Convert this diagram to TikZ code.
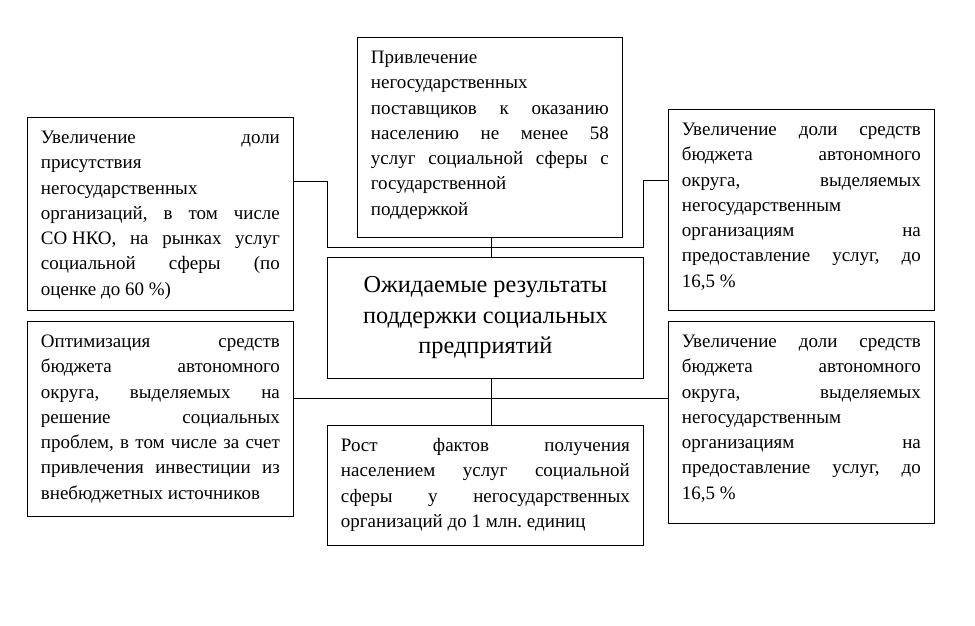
\documentclass[tikz,border=0pt]{standalone}
\usepackage{fontspec}
\setmainfont{Liberation Serif}
\frenchspacing
\newcommand{\bodyfont}{\fontsize{19pt}{25.3pt}\selectfont\frenchspacing\hyphenpenalty=10000 \exhyphenpenalty=10000 \tolerance=10000 \hbadness=10000 \emergencystretch=0pt }
\newcommand{\bt}[3]{\parbox[c][#2][t]{#1}{\bodyfont\rule{0pt}{26pt}#3}}
\tikzset{
  box/.style={draw, line width=0.8pt, inner xsep=13.5pt, inner ysep=0pt, anchor=north west},
  cbox/.style={draw, line width=0.8pt, inner sep=0pt, anchor=north west, align=center,
    font=\fontsize{24.3pt}{30.5pt}\selectfont},
  link/.style={draw, line width=0.9pt},
}
\begin{document}
\begin{tikzpicture}[x=1pt,y=-1pt]
\useasboundingbox (0,0) rectangle (975,625);

\node[box] (tl) at (27,117) {\bt{239pt}{193pt}{Увеличение доли\linebreak присутствия\linebreak негосударственных\linebreak организаций, в том числе\linebreak \mbox{СО НКО}, на рынках услуг\linebreak социальной сферы (по\linebreak оценке до 60~\%)}};

\node[box] (t) at (357,37) {\bt{238pt}{200pt}{Привлечение\linebreak негосударственных\linebreak поставщиков к оказанию\linebreak населению не менее 58\linebreak услуг социальной сферы с\linebreak государственной\linebreak поддержкой}};

\node[box] (tr) at (668,109) {\bt{239pt}{201pt}{Увеличение доли средств\linebreak бюджета автономного\linebreak округа, выделяемых\linebreak негосударственным\linebreak организациям на\linebreak предоставление услуг, до\linebreak 16,5~\%}};

\node[box] (bl) at (27,321) {\bt{239pt}{195pt}{Оптимизация средств\linebreak бюджета автономного\linebreak округа, выделяемых на\linebreak решение социальных\linebreak проблем, в том числе за счет\linebreak привлечения инвестиции из\linebreak внебюджетных источников}};

\node[box] (br) at (668,321) {\bt{239pt}{202pt}{Увеличение доли средств\linebreak бюджета автономного\linebreak округа, выделяемых\linebreak негосударственным\linebreak организациям на\linebreak предоставление услуг, до\linebreak 16,5~\%}};

\node[cbox, minimum width=316pt, minimum height=121pt] (c) at (327,257) {Ожидаемые результаты\\поддержки социальных\\предприятий};

\node[box] (b) at (327,425) {\bt{289pt}{120pt}{Рост фактов получения\linebreak населением услуг социальной\linebreak сферы у негосударственных\linebreak организаций до 1 млн. единиц}};

\coordinate (ja) at (327,181);
\coordinate (jb) at (643,180);
\coordinate (jc) at (327,247);
\coordinate (jd) at (643,247);
\coordinate (je) at (491,398);

\draw[link] (tl.east |- ja) -- (ja) -- (jc) -- (jd) -- (jb) -- (tr.west |- jb);
\draw[link] (t.south -| je) -- (c.north -| je);
\draw[link] (bl.east |- je) -- (br.west |- je);
\draw[link] (c.south -| je) -- (b.north -| je);
\end{tikzpicture}
\end{document}
